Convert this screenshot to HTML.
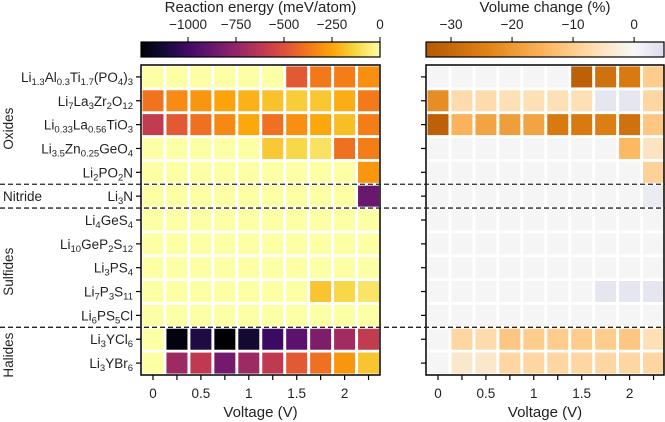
<!DOCTYPE html>
<html><head><meta charset="utf-8"><style>
html,body{margin:0;padding:0;background:#fff;}
svg{display:block;font-family:"Liberation Sans","DejaVu Sans",sans-serif;}
</style></head><body>
<svg id="chart" width="665" height="422" viewBox="0 0 665 422">
<defs>
<linearGradient id="gInf" x1="0" x2="1" y1="0" y2="0">
<stop offset="0" stop-color="#000004"/><stop offset="0.1" stop-color="#160b39"/><stop offset="0.2" stop-color="#420a68"/><stop offset="0.3" stop-color="#6a176e"/><stop offset="0.4" stop-color="#932667"/><stop offset="0.5" stop-color="#bc3754"/><stop offset="0.6" stop-color="#dd513a"/><stop offset="0.7" stop-color="#f37819"/><stop offset="0.8" stop-color="#fca50a"/><stop offset="0.9" stop-color="#f6d746"/><stop offset="1" stop-color="#fcffa4"/>
</linearGradient>
<linearGradient id="gVol" x1="0" x2="1" y1="0" y2="0">
<stop offset="0" stop-color="#b35806"/><stop offset="0.256" stop-color="#e08214"/><stop offset="0.513" stop-color="#fdb863"/><stop offset="0.718" stop-color="#fee0b6"/><stop offset="0.872" stop-color="#f7f7f7"/><stop offset="1" stop-color="#dcdcef"/>
</linearGradient>
</defs>
<g id="g"></g>
</svg>
<script>
const voltages=[0,0.25,0.5,0.75,1,1.25,1.5,1.75,2,2.25];
const xTickLabels=["0","0.5","1","1.5","2"];
const energyTicks=[-1000,-750,-500,-250,0];
const volumeTicks=[-30,-20,-10,0];
const materials=[
 [["Li",""],["1.3","s"],["Al",""],["0.3","s"],["Ti",""],["1.7","s"],["(PO",""],["4","s"],[")",""],["3","s"]],
 [["Li",""],["7","s"],["La",""],["3","s"],["Zr",""],["2","s"],["O",""],["12","s"]],
 [["Li",""],["0.33","s"],["La",""],["0.56","s"],["TiO",""],["3","s"]],
 [["Li",""],["3.5","s"],["Zn",""],["0.25","s"],["GeO",""],["4","s"]],
 [["Li",""],["2","s"],["PO",""],["2","s"],["N",""]],
 [["Li",""],["3","s"],["N",""]],
 [["Li",""],["4","s"],["GeS",""],["4","s"]],
 [["Li",""],["10","s"],["GeP",""],["2","s"],["S",""],["12","s"]],
 [["Li",""],["3","s"],["PS",""],["4","s"]],
 [["Li",""],["7","s"],["P",""],["3","s"],["S",""],["11","s"]],
 [["Li",""],["6","s"],["PS",""],["5","s"],["Cl",""]],
 [["Li",""],["3","s"],["YCl",""],["6","s"]],
 [["Li",""],["3","s"],["YBr",""],["6","s"]]
];
const energy=[
 [0,0,0,0,0,0,-470,-375,-360,-310],
 [-390,-320,-290,-255,-220,-180,-150,-165,-230,-370],
 [-600,-470,-400,-330,-245,-400,-310,-245,-190,-360],
 [0,0,0,0,0,-160,-120,-90,-400,-360],
 [0,0,0,0,0,0,0,0,0,-290],
 [0,0,0,0,0,0,0,0,0,-870],
 [0,0,0,0,0,0,0,0,0,0],
 [0,0,0,0,0,0,0,0,0,0],
 [0,0,0,0,0,0,0,0,0,0],
 [0,0,0,0,0,0,0,-170,-120,-80],
 [0,0,0,0,0,0,0,0,0,0],
 [0,-1220,-1095,-1245,-1140,-1010,-920,-810,-700,-600],
 [0,-720,-610,-845,-720,-610,-470,-400,-290,-170]
];
const volume=[
 [0,0,0,0,0,0,-32,-28,-26,-10],
 [-22,-7,-7,-6,-6,-6,-6,3,3,-8],
 [-32,-15,-18,-19,-18,-26,-26,-25,-28,-11],
 [0,0,0,0,0,0,0,0,-14,-5],
 [0,0,0,0,0,0,0,0,0,-9],
 [0,0,0,0,0,0,0,0,0,2],
 [0,0,0,0,0,0,0,0,0,0],
 [0,0,0,0,0,0,0,0,0,0],
 [0,0,0,0,0,0,0,0,0,0],
 [0,0,0,0,0,0,0,3,3,3],
 [0,0,0,0,0,0,0,0,0,0],
 [0,-8,-7,-11,-10,-10,-10,-10,-11,-6],
 [0,-4,-4,-8,-8,-8,-8,-8,-8,-8]
];
const NS="http://www.w3.org/2000/svg";
const g=document.getElementById('g');
function el(t,a,p){const e=document.createElementNS(NS,t);for(const k in a)e.setAttribute(k,a[k]);(p||g).appendChild(e);return e;}
function hex(h){return [1,3,5].map(i=>parseInt(h.substr(i,2),16));}
function interp(stops,t){t=Math.max(0,Math.min(1,t));for(let i=1;i<stops.length;i++){if(t<=stops[i][0]){const a=stops[i-1],b=stops[i];const f=(t-a[0])/(b[0]-a[0]);const ca=hex(a[1]),cb=hex(b[1]);return 'rgb('+ca.map((c,j)=>Math.round(c+(cb[j]-c)*f)).join(',')+')';}}return stops[stops.length-1][1];}
const infStops=[[0,"#000004"],[0.1,"#160b39"],[0.2,"#420a68"],[0.3,"#6a176e"],[0.4,"#932667"],[0.5,"#bc3754"],[0.6,"#dd513a"],[0.7,"#f37819"],[0.8,"#fca50a"],[0.9,"#f6d746"],[1,"#fcffa4"]];
const volStops=[[0,"#b35806"],[0.256,"#e08214"],[0.513,"#fdb863"],[0.718,"#fee0b6"],[0.872,"#f5f5f5"],[1,"#dcdcef"]];
const E_MIN=-1245,E_MAX=0,V_MIN=-34.1,V_MAX=4.9;
const yTop=65,yBottom=375,rowH=(yBottom-yTop)/13;
const panels=[{x0:141,x1:380,c0:153,data:energy,col:v=>interp(infStops,(v-E_MIN)/(E_MAX-E_MIN)),name:'energy'},
              {x0:426,x1:664,c0:438,data:volume,col:v=>interp(volStops,(v-V_MIN)/(V_MAX-V_MIN)),name:'volume'}];
const pitch=23.95;
function yRow(i){return yTop+rowH*(i+0.5);}
panels.forEach(p=>{
  const xV=v=>p.c0+(v/0.25)*pitch;
  const bg=el('rect',{x:p.x0,y:yTop,width:p.x1-p.x0,height:yBottom-yTop,fill:'#fff'});
  
  
  p.data.forEach((row,i)=>row.forEach((v,j)=>{
    const r=el('rect',{x:xV(voltages[j])-10.5,y:yRow(i)-10.5,width:21,height:21,fill:p.col(v)});
    
    
  }));
  const fr=el('rect',{x:p.x0,y:yTop,width:p.x1-p.x0,height:yBottom-yTop,fill:'none',stroke:'#000','stroke-width':1.5});
  
  
  for(let i=0;i<13;i++){const t=el('line',{x1:p.x0-5,x2:p.x0,y1:yRow(i),y2:yRow(i),stroke:'#000','stroke-width':1.2});
    
    }
  voltages.forEach(v=>{const t=el('line',{x1:xV(v),x2:xV(v),y1:yBottom,y2:yBottom+5,stroke:'#000','stroke-width':1.2});
    
    });
  xTickLabels.forEach(s=>{const t=el('text',{x:xV(parseFloat(s)),y:398,'text-anchor':'middle','font-size':13.5,fill:'#222'});t.textContent=s;
    
    });
  const xt=el('text',{x:(p.x0+p.x1)/2,y:417,'text-anchor':'middle','font-size':15,fill:'#222'});xt.textContent='Voltage (V)';
  
  
});
function colorbar(x0,x1,grad,min,max,ticks,title,name){
  const r=el('rect',{x:x0,y:42,width:x1-x0,height:15,fill:'url(#'+grad+')',stroke:'#000','stroke-width':1.2});
  
  
  const sx=v=>x0+(v-min)/(max-min)*(x1-x0);
  ticks.forEach(v=>{
    const l=el('line',{x1:sx(v),x2:sx(v),y1:37,y2:42,stroke:'#000','stroke-width':1});
    
    
    const t=el('text',{x:sx(v),y:29,'text-anchor':'middle','font-size':13.5,fill:'#222'});
    t.textContent=v<0?'\u2212'+Math.abs(v):String(v);
    
    
  });
  const t=el('text',{x:(x0+x1)/2,y:12,'text-anchor':'middle','font-size':15,fill:'#222'});
  t.textContent=title;
  
  
}
colorbar(141,380,'gInf',E_MIN,E_MAX,energyTicks,'Reaction energy (meV/atom)','energy');
colorbar(426,664,'gVol',V_MIN,V_MAX,volumeTicks,'Volume change (%)','volume');
materials.forEach((parts,i)=>{
  const t=el('text',{x:133,y:yRow(i)+5,'text-anchor':'end','font-size':13.5,fill:'#222'});
  let prevSub=false;
  parts.forEach(([s,k])=>{
    const sub=k==='s';
    const dy=sub&&!prevSub?3:(!sub&&prevSub?-3:0);
    const ts=el('tspan',sub?{'font-size':9.5,dy:dy}:{dy:dy},t);
    ts.textContent=s;
    prevSub=sub;
  });
  
  
});
[5,6,11].forEach(i=>{const y=yTop+rowH*i;const l=el('line',{x1:0,x2:665,y1:y,y2:y,stroke:'#222','stroke-width':1.3,'stroke-dasharray':'5,3'});
  
  });
function rot(txt,yc,name){const t=el('text',{x:13,y:yc,'text-anchor':'middle','font-size':13.5,fill:'#222',transform:'rotate(-90 13 '+yc+')'});t.textContent=txt;
  
  }
rot('Oxides',yTop+rowH*2.5+4,'oxides-group-label');
rot('Sulfides',yTop+rowH*8.5+4,'sulfides-group-label');
rot('Halides',yTop+rowH*12+4,'halides-group-label');
const nt=el('text',{x:3,y:yRow(5)+5,'font-size':13.5,fill:'#222'});nt.textContent='Nitride';


</script>
</body></html>
